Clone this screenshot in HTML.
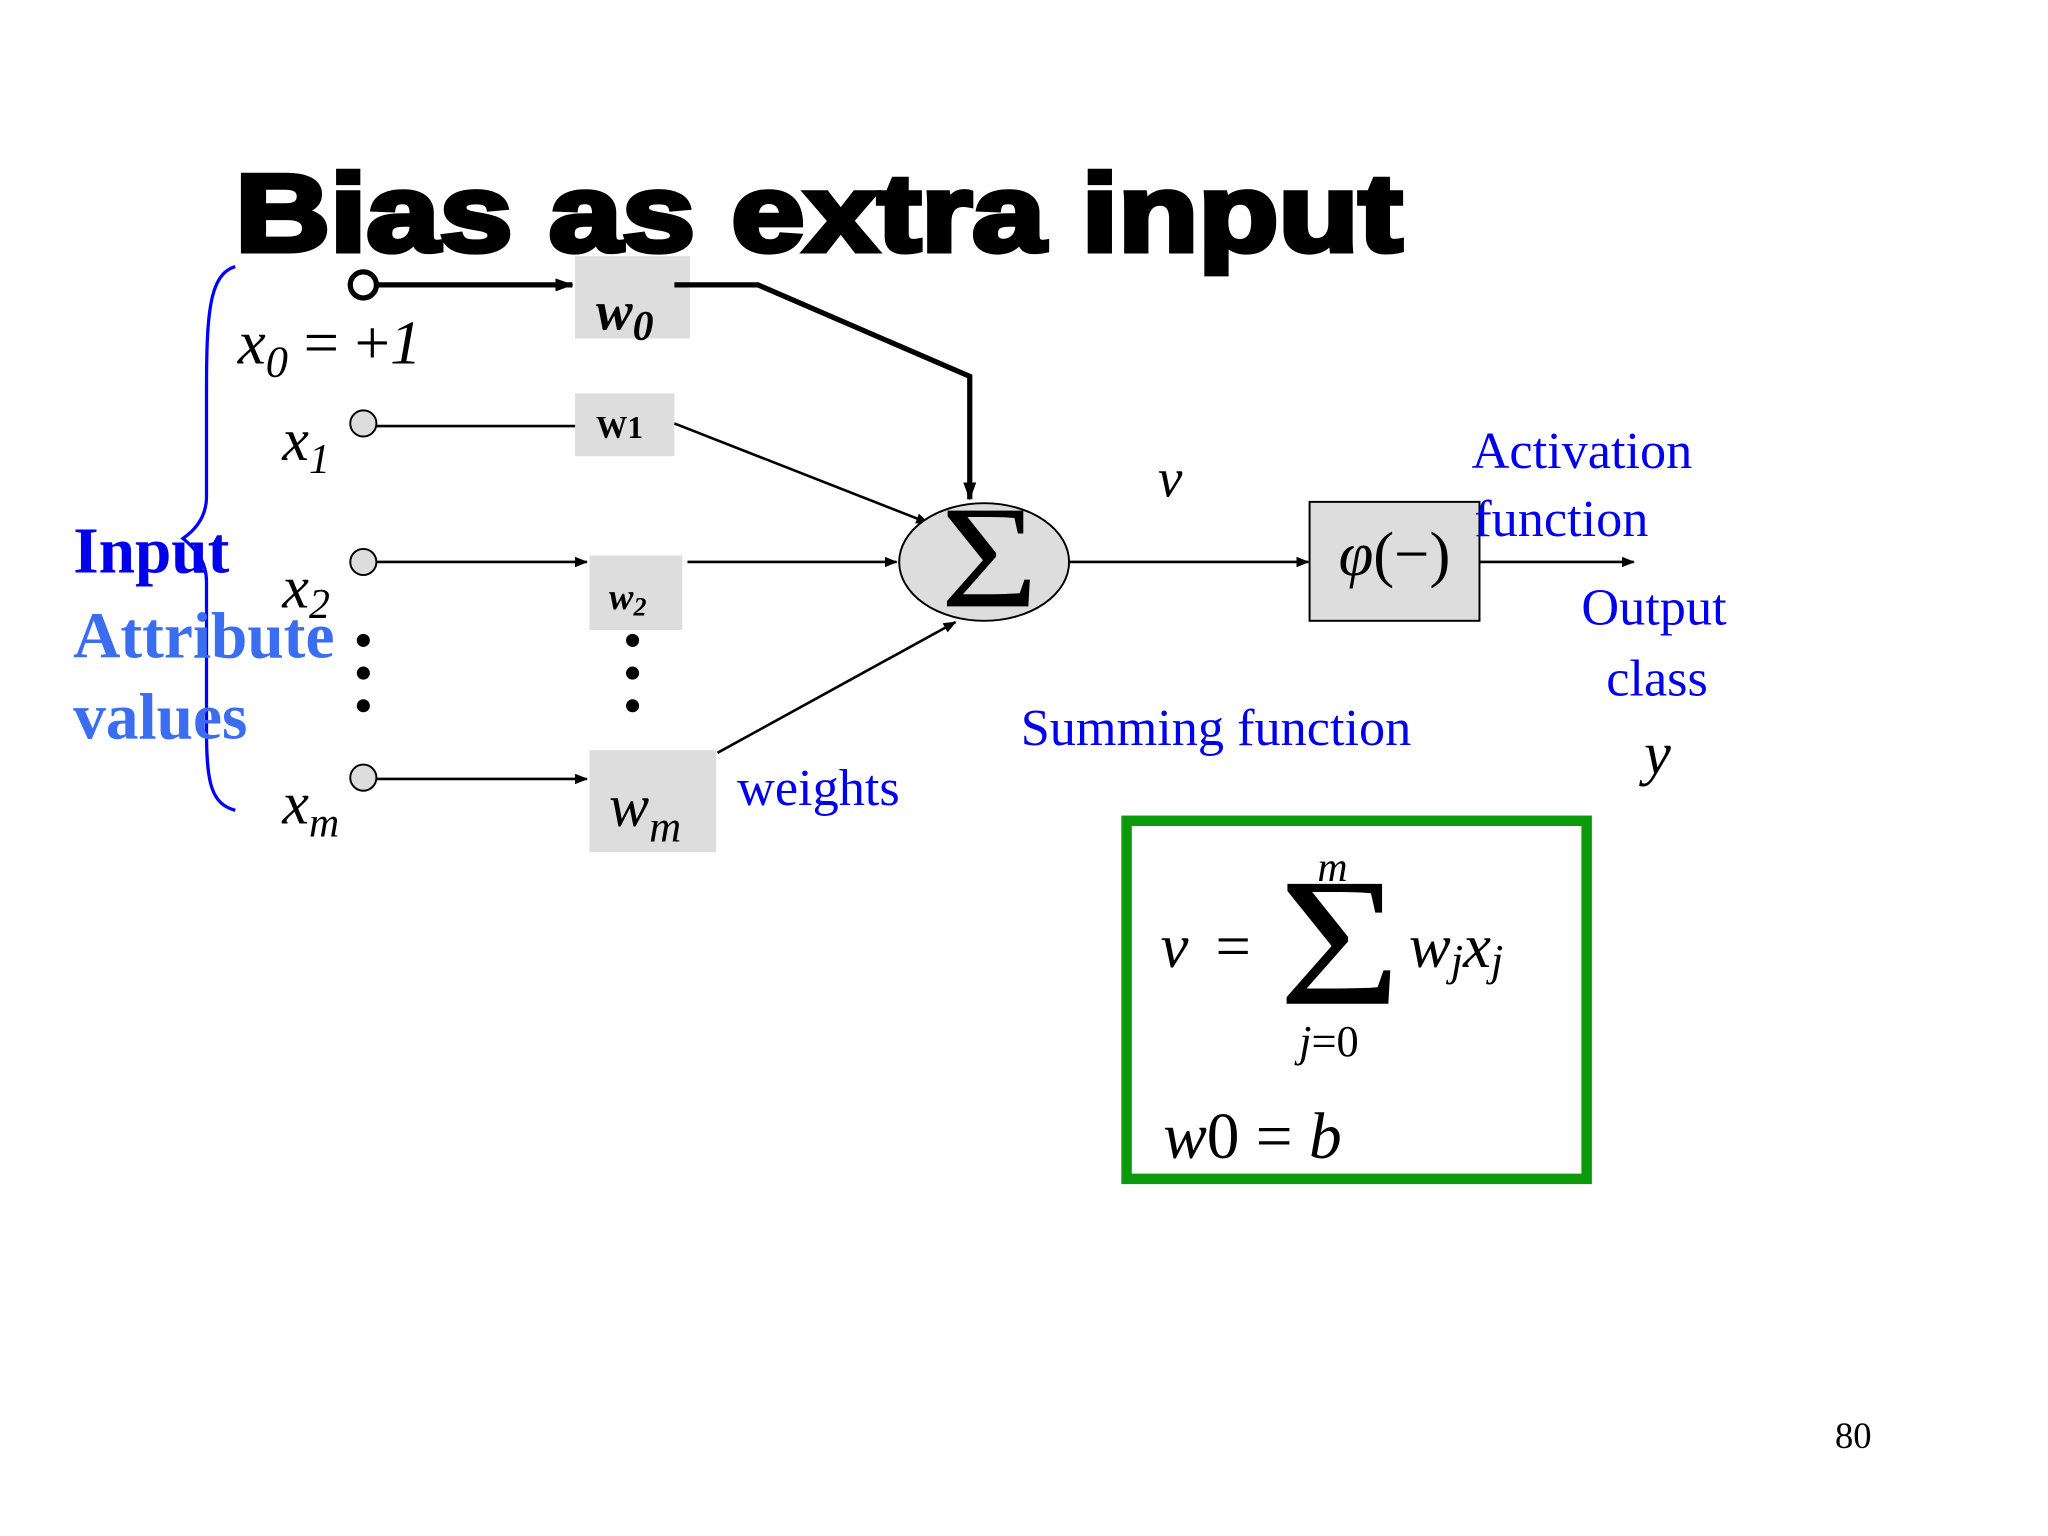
<!DOCTYPE html>
<html><head><style>html,body{margin:0;padding:0;background:#fff}svg{display:block}</style></head><body>
<svg width="2048" height="1536" viewBox="0 0 1567 1175" preserveAspectRatio="xMinYMin meet" xmlns="http://www.w3.org/2000/svg">
<defs>
<marker id="a" markerWidth="10" markerHeight="8" refX="9" refY="4" orient="auto" markerUnits="userSpaceOnUse"><path d="M0,0 L10,4 L0,8 z" fill="#000"/></marker>
<marker id="b" markerWidth="14" markerHeight="10" refX="13" refY="5" orient="auto" markerUnits="userSpaceOnUse"><path d="M0,0 L14,5 L0,10 z" fill="#000"/></marker>
</defs>
<text x="180" y="192" font-family="Liberation Sans, sans-serif" font-weight="bold" font-size="84" fill="#000" stroke="#000" stroke-width="4" textLength="893" lengthAdjust="spacingAndGlyphs">Bias as extra input</text>
<path d="M180,204 C160,210 158,240 158,300 L158,380 C158,395 150,405 140,412 C150,420 158,430 158,445 L158,560 C158,600 162,615 180,620" fill="none" stroke="#0000ff" stroke-width="2.5"/>
<rect x="440" y="196" width="88" height="63" fill="#ddd"/>
<rect x="440" y="301" width="76" height="48" fill="#ddd"/>
<rect x="451" y="425" width="71" height="57" fill="#ddd"/>
<rect x="451" y="574" width="97" height="78" fill="#ddd"/>
<circle cx="278" cy="218" r="10" fill="#fff" stroke="#000" stroke-width="4"/>
<line x1="288" y1="218" x2="438" y2="218" stroke="#000" stroke-width="4" marker-end="url(#b)"/>
<circle cx="278" cy="324" r="10" fill="#ddd" stroke="#000" stroke-width="1.5"/>
<line x1="288" y1="326" x2="440" y2="326" stroke="#000" stroke-width="2"/>
<circle cx="278" cy="430" r="10" fill="#ddd" stroke="#000" stroke-width="1.5"/>
<line x1="288" y1="430" x2="449" y2="430" stroke="#000" stroke-width="2" marker-end="url(#a)"/>
<circle cx="278" cy="595" r="10" fill="#ddd" stroke="#000" stroke-width="1.5"/>
<line x1="288" y1="596" x2="449" y2="596" stroke="#000" stroke-width="2" marker-end="url(#a)"/>
<g fill="#000"><circle cx="278" cy="490" r="5"/><circle cx="278" cy="515" r="5"/><circle cx="278" cy="540" r="5"/>
<circle cx="484" cy="490" r="5"/><circle cx="484" cy="515" r="5"/><circle cx="484" cy="540" r="5"/></g>
<polyline points="516,218 580,218 742,288 742,382" fill="none" stroke="#000" stroke-width="4" marker-end="url(#b)"/>
<line x1="516" y1="324" x2="710" y2="400" stroke="#000" stroke-width="2" marker-end="url(#a)"/>
<line x1="526" y1="430" x2="686" y2="430" stroke="#000" stroke-width="2" marker-end="url(#a)"/>
<line x1="549" y1="576" x2="731" y2="476" stroke="#000" stroke-width="2" marker-end="url(#a)"/>
<ellipse cx="753" cy="430" rx="65" ry="45" fill="#ddd" stroke="#000" stroke-width="1.5"/>
<text x="757" y="464" text-anchor="middle" font-family="Liberation Serif, serif" font-size="112" fill="#000" transform="translate(757,430) scale(1.15,1) translate(-757,-430)">Σ</text>
<line x1="818" y1="430" x2="1001" y2="430" stroke="#000" stroke-width="2" marker-end="url(#a)"/>
<rect x="1002" y="384" width="130" height="91" fill="#ddd" stroke="#000" stroke-width="1.5"/>
<text x="1067" y="440" text-anchor="middle" font-family="Liberation Serif, serif" font-size="48" fill="#000"><tspan font-style="italic">φ</tspan>(−)</text>
<line x1="1132" y1="430" x2="1250" y2="430" stroke="#000" stroke-width="2" marker-end="url(#a)"/>
<g font-family="Liberation Serif, serif" font-style="italic" fill="#000">
<text x="182" y="278" font-size="48">x<tspan font-size="34" dy="10">0</tspan><tspan dy="-10" font-style="normal"> = +</tspan>1</text>
<text x="216" y="352" font-size="46">x<tspan font-size="32" dy="10">1</tspan></text>
<text x="216" y="465" font-size="46">x<tspan font-size="32" dy="8">2</tspan></text>
<text x="216" y="630" font-size="46">x<tspan font-size="32" dy="10">m</tspan></text>
<text x="456" y="252" font-size="42" font-weight="bold">w<tspan font-size="32" dy="8">0</tspan></text>
<text x="466" y="466" font-size="28" font-weight="bold">w<tspan font-size="20" dy="5">2</tspan></text>
<text x="466" y="632" font-size="46">w<tspan font-size="34" dy="12">m</tspan></text>
<text x="886" y="380" font-size="42">v</text>
<text x="1258" y="592" font-size="46">y</text>
</g>
<text x="456" y="335" font-family="Liberation Serif, serif" font-weight="bold" font-size="24" fill="#000">W1</text>
<g font-family="Liberation Serif, serif" fill="#0000ee" font-size="40">
<text x="1126" y="358">Activation</text>
<text x="1128" y="410">function</text>
<text x="1210" y="478">Output</text>
<text x="1229" y="532">class</text>
<text x="781" y="570">Summing function</text>
<text x="564" y="616">weights</text>
</g>
<g font-family="Liberation Serif, serif" font-weight="bold" font-size="50">
<text x="56" y="438" fill="#0000ee">Input</text>
<text x="56" y="503" fill="#3a6df0">Attribute</text>
<text x="56" y="565" fill="#3a6df0">values</text>
</g>
<rect x="862" y="628" width="352" height="274" fill="#fff" stroke="#0a9a0a" stroke-width="8"/>
<g font-family="Liberation Serif, serif" fill="#000">
<text x="888" y="740" font-size="48" font-style="italic">v</text>
<text x="930" y="740" font-size="48">=</text>
<text x="1025" y="768" text-anchor="middle" font-size="140" transform="translate(1025,724) scale(1.15,1) translate(-1025,-724)">Σ</text>
<text x="1008" y="674" font-size="32" font-style="italic">m</text>
<text x="994" y="808" font-size="34"><tspan font-style="italic">j</tspan>=0</text>
<text x="1078" y="740" font-size="48" font-style="italic">w<tspan font-size="34" dy="6">j</tspan><tspan dy="-6">x</tspan><tspan font-size="34" dy="6">j</tspan></text>
<text x="890" y="886" font-size="50"><tspan font-style="italic">w</tspan>0 = <tspan font-style="italic">b</tspan></text>
</g>
<text x="1404" y="1108" font-family="Liberation Serif, serif" font-size="28" fill="#000">80</text>
</svg>
</body></html>
